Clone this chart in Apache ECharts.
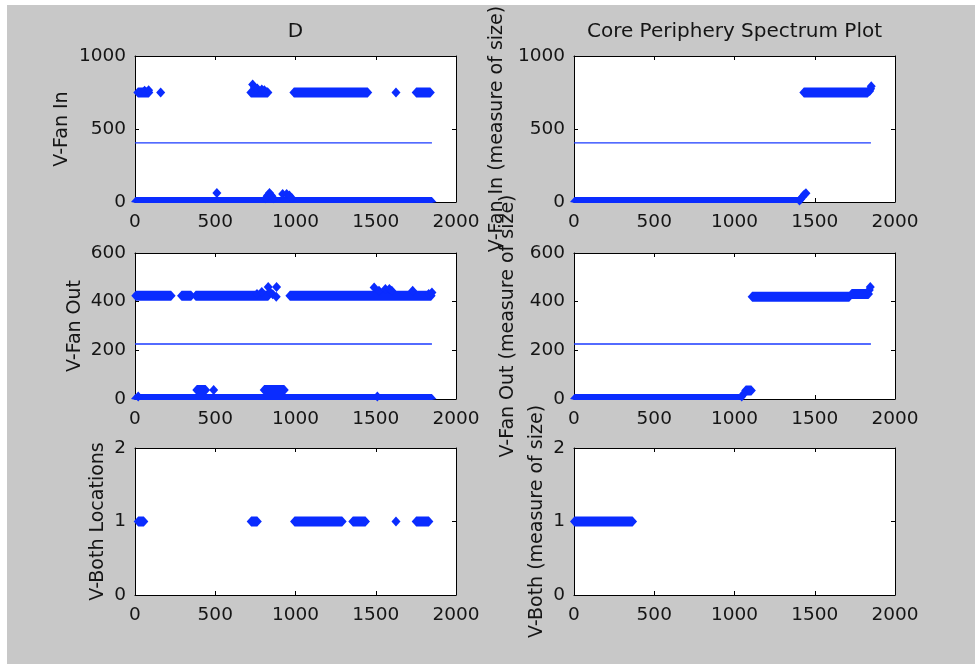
<!DOCTYPE html>
<html>
<head>
<meta charset="utf-8">
<script src="https://cdn.jsdelivr.net/npm/echarts@6/dist/echarts.min.js"></script>
<style>
  html, body { margin: 0; padding: 0; background: #ffffff; }
  #wrap { position: relative; width: 975px; height: 664px; background: #ffffff; }
  #bg { position: absolute; left: 7px; top: 5px; width: 968px; height: 659px; background: #c8c8c8; }
  #chart { position: absolute; left: 0; top: 0; width: 975px; height: 664px; }
</style>
</head>
<body>
<div id="wrap"><div id="bg"></div><div id="chart"></div></div>
<script>
// ---------------- data ----------------
const xTicks = [0, 500, 1000, 1500, 2000];
const yTicksFanIn = [0, 500, 1000];
const yTicksFanOut = [0, 200, 400, 600];
const yTicksBoth = [0, 1, 2];

const titleLeft = "D";
const titleRight = "Core Periphery Spectrum Plot";
const yNames = ["V-Fan In", "V-Fan Out", "V-Both Locations",
                "V-Fan In (measure of size)", "V-Fan Out (measure of size)", "V-Both (measure of size)"];

// runs of densely packed markers: [xStart, xEnd, y]
const fanInRuns = [[3, 1850, 0], [18, 86, 750], [722, 828, 750], [990, 1450, 750], [1752, 1840, 750]];
// isolated markers: [x, y]
const fanInPoints = [[160, 750], [1626, 750], [733, 805], [745, 785], [762, 778], [790, 770], [806, 765],
  [60, 762], [85, 766], [510, 62], [815, 25], [826, 45], [838, 62], [850, 45], [862, 25],
  [920, 55], [945, 55], [962, 45], [976, 28]];
const fanInThreshold = [[0, 405], [1850, 405]];

const fanInSortedRuns = [[3, 1395, 0], [1432, 1830, 750]];
const fanInSortedPoints = [[1405, 10], [1415, 22], [1425, 38], [1435, 52], [1445, 60],
  [1842, 760], [1848, 775], [1852, 792]];
const fanInSortedThreshold = [[0, 405], [1850, 405]];

const fanOutRuns = [[3, 1850, 0], [5, 225, 424], [290, 350, 424], [378, 830, 424], [965, 1845, 424],
  [385, 440, 37], [805, 930, 37]];
const fanOutPoints = [[490, 37], [20, 10], [1510, 10], [830, 460], [840, 440], [858, 430], [880, 420],
  [882, 460], [760, 432], [790, 440], [1490, 458], [1520, 445], [1560, 452], [1585, 452],
  [1600, 445], [1730, 445], [1830, 432], [1850, 438]];
const fanOutThreshold = [[0, 226], [1850, 226]];

const fanOutSortedRuns = [[3, 1030, 0], [1070, 1105, 35], [1110, 1715, 420], [1730, 1835, 432]];
const fanOutSortedPoints = [[1045, 10], [1058, 22], [1840, 448], [1846, 460]];
const fanOutSortedThreshold = [[0, 226], [1850, 226]];

const bothRuns = [[20, 55, 1], [724, 762, 1], [994, 1291, 1], [1357, 1436, 1], [1752, 1831, 1]];
const bothPoints = [[1626, 1]];

const bothSortedRuns = [[3, 365, 1]];
const bothSortedPoints = [];

// ---------------- styling / layout ----------------
const BLUE = '#0a2cff';
const LINE_BLUE = '#1a3aff';
const TXT = '#151515';
const FONT = 'DejaVu Sans';
const FS_TICK = 18.5;
const FS_NAME = 19;
const FS_TITLE = 20;

const grids = [
  { left: 135, top: 56, width: 321, height: 146 },
  { left: 135, top: 253, width: 321, height: 146 },
  { left: 135, top: 448, width: 321, height: 147 },
  { left: 574, top: 56, width: 321, height: 146 },
  { left: 574, top: 253, width: 321, height: 146 },
  { left: 574, top: 448, width: 321, height: 147 }
];
const yRanges = [yTicksFanIn, yTicksFanOut, yTicksBoth, yTicksFanIn, yTicksFanOut, yTicksBoth];
const nameGaps = [63, 50, 27, 67, 56, 27];

const panelData = [
  [fanInRuns, fanInPoints, fanInThreshold],
  [fanOutRuns, fanOutPoints, fanOutThreshold],
  [bothRuns, bothPoints, null],
  [fanInSortedRuns, fanInSortedPoints, fanInSortedThreshold],
  [fanOutSortedRuns, fanOutSortedPoints, fanOutSortedThreshold],
  [bothSortedRuns, bothSortedPoints, null]
];

function runRender(params, api) {
  const a = api.coord([api.value(0), api.value(2)]);
  const b = api.coord([api.value(1), api.value(2)]);
  const cs = params.coordSys;
  const floor = cs.y + cs.height + 1;
  const hw = 4.5, hh = 5;
  const bot = Math.min(a[1] + hh, floor);
  const mid = Math.min(a[1], floor);
  return {
    type: 'polygon',
    shape: { points: [[a[0] - hw, mid], [a[0], a[1] - hh], [b[0], b[1] - hh], [b[0] + hw, mid], [b[0], bot], [a[0], bot]] },
    style: { fill: BLUE }
  };
}

const plain = v => String(v);
const xAxes = [], yAxes = [], series = [];
grids.forEach((g, i) => {
  const yt = yRanges[i];
  const yMin = yt[0], yMax = yt[yt.length - 1], yInt = yt[1] - yt[0];
  const xMin = xTicks[0], xMax = xTicks[xTicks.length - 1], xInt = xTicks[1] - xTicks[0];
  const common = {
    axisLine: { show: true, onZero: false, lineStyle: { color: '#000', width: 1 } },
    axisTick: { show: true, inside: true, length: 4, lineStyle: { color: '#000' } },
    splitLine: { show: false }
  };
  xAxes.push(Object.assign({ type: 'value', gridIndex: i, position: 'bottom', min: xMin, max: xMax, interval: xInt,
    axisLabel: { color: TXT, fontFamily: FONT, fontSize: FS_TICK, margin: 11, formatter: plain } }, common));
  xAxes.push(Object.assign({ type: 'value', gridIndex: i, position: 'top', min: xMin, max: xMax, interval: xInt,
    axisLabel: { show: false } }, common));
  yAxes.push(Object.assign({ type: 'value', gridIndex: i, position: 'left', min: yMin, max: yMax, interval: yInt,
    name: yNames[i], nameLocation: 'middle', nameGap: nameGaps[i],
    nameTextStyle: { color: TXT, fontFamily: FONT, fontSize: FS_NAME },
    axisLabel: { color: TXT, fontFamily: FONT, fontSize: FS_TICK, margin: 9, formatter: plain } }, common));
  yAxes.push(Object.assign({ type: 'value', gridIndex: i, position: 'right', min: yMin, max: yMax, interval: yInt,
    axisLabel: { show: false } }, common));

  const [runs, pts, thr] = panelData[i];
  if (thr) {
    series.push({ type: 'line', xAxisIndex: 2 * i, yAxisIndex: 2 * i, data: thr, symbol: 'none',
      lineStyle: { color: LINE_BLUE, width: 1.3 }, silent: true, z: 1 });
  }
  series.push({ type: 'custom', xAxisIndex: 2 * i, yAxisIndex: 2 * i, data: runs,
    encode: { x: [0, 1], y: 2 }, renderItem: runRender, clip: false, silent: true, z: 2 });
  if (pts.length) {
    series.push({ type: 'scatter', xAxisIndex: 2 * i, yAxisIndex: 2 * i, data: pts, symbol: 'diamond',
      symbolSize: [9, 10], itemStyle: { color: BLUE, opacity: 1 }, clip: false, silent: true, z: 2 });
  }
});

const chart = echarts.init(document.getElementById('chart'), null, { renderer: 'canvas' });
chart.setOption({
  backgroundColor: 'transparent',
  animation: false,
  grid: grids.map(g => Object.assign({ show: true, backgroundColor: '#ffffff', borderWidth: 0,
    containLabel: false, outerBoundsMode: 'none' }, g)),
  xAxis: xAxes,
  yAxis: yAxes,
  graphic: [
    { type: 'text', x: 295.5, y: 32, style: { text: titleLeft, fill: TXT, font: FS_TITLE + 'px "' + FONT + '"', textAlign: 'center', textVerticalAlign: 'middle' } },
    { type: 'text', x: 734.5, y: 32, style: { text: titleRight, fill: TXT, font: FS_TITLE + 'px "' + FONT + '"', textAlign: 'center', textVerticalAlign: 'middle' } }
  ],
  series: series
});
</script>
</body>
</html>
